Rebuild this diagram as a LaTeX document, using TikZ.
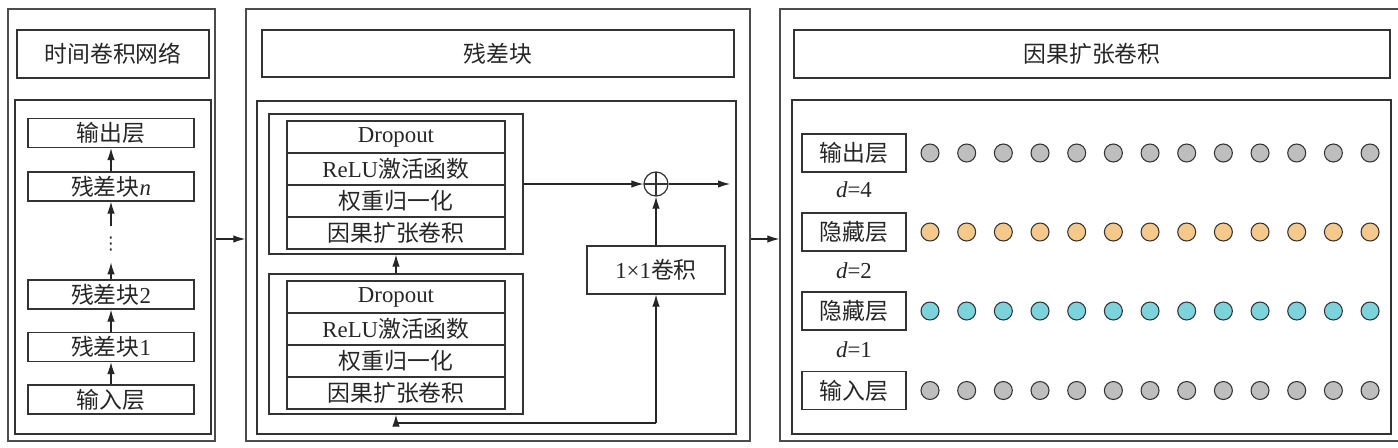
\documentclass[tikz,border=0pt]{standalone}
\usepackage{fontspec}
\setmainfont{Liberation Serif}
\newfontfamily\cjk{Noto Sans CJK SC}
\newfontfamily\sym{DejaVu Sans}
\usetikzlibrary{arrows.meta,fit}
\newcommand\zh[1]{{\cjk #1}}
\definecolor{unitgray}{HTML}{BEBEBE}
\definecolor{unitorange}{HTML}{F5C88C}
\definecolor{unitcyan}{HTML}{7DD3DC}
\tikzset{%
    every node/.style={font=\fontsize{13pt}{15pt}\selectfont, text=black!85},
    frame/.style={draw=black!70, line width=0.8pt, inner sep=0pt},
    box/.style={draw=black!80, line width=0.7pt, inner sep=0pt},
    layer/.style={box, minimum width=3.32cm, minimum height=0.58cm},
    row/.style={box, minimum width=4.36cm, minimum height=0.64cm},
    tag/.style={box, minimum width=2.08cm, minimum height=0.76cm},
    unit/.style={circle, draw=black!80, line width=0.6pt, minimum size=0.36cm,
    	inner sep=0pt},
    arr/.style={-{Latex[length=2.4mm,width=1.5mm]}, line width=0.6pt, draw=black!85}
}

\begin{document}
\begin{tikzpicture}[x=0.02cm, y=-0.02cm]
	\useasboundingbox (0,0) rectangle (1398,447);
	% left: network
	\node [frame, fit={(8,9) (215,441)}] (tcn) {};
	\node [box, minimum width=3.84cm, minimum height=0.96cm] (tcnt) at (113,54)
		{\zh{时间卷积网络}};
	\node [box, fit={(15,100) (211,434)}] (tcni) {};
	\node [layer] (out) at (111,133) {\zh{输出层}};
	\node [layer] (bn) at (111,186.5) {\zh{残差块}\textit{n}};
	\node [inner sep=0pt, minimum height=0.72cm] (dots) at (111,244)
		{\sym\fontsize{10pt}{10pt}\selectfont ⋮};
	\node [layer] (b2) at (111,294.5) {\zh{残差块}2};
	\node [layer] (b1) at (111,347) {\zh{残差块}1};
	\node [layer] (in) at (111,399.5) {\zh{输入层}};
	\draw [arr] (in) -- (b1);
	\draw [arr] (b1) -- (b2);
	\draw [arr] (b2) -- (dots);
	\draw [arr] (dots) -- (bn);
	\draw [arr] (bn) -- (out);
	% middle: residual block
	\node [frame, fit={(246,9) (750,441)}] (res) {};
	\node [box, minimum width=9.44cm, minimum height=0.94cm] (rest) at (498,53.5)
		{\zh{残差块}};
	\node [box, fit={(257,101) (736,434)}] (resi) {};
	\node [box, fit={(269,114) (523,254)}] (ub) {};
	\node [row] (ud) at (396,137) {Dropout};
	\node [row] (ur) at (396,169) {ReLU\zh{激活函数}};
	\node [row] (uw) at (396,201) {\zh{权重归一化}};
	\node [row] (uc) at (396,233) {\zh{因果扩张卷积}};
	\node [box, fit={(269,274) (523,414)}] (lb) {};
	\node [row] (ld) at (396,297) {Dropout};
	\node [row] (lr) at (396,329) {ReLU\zh{激活函数}};
	\node [row] (lw) at (396,361) {\zh{权重归一化}};
	\node [row] (lc) at (396,393) {\zh{因果扩张卷积}};
	\node [box, minimum width=2.76cm, minimum height=0.96cm] (conv) at (656,270)
		{1\texttimes1\zh{卷积}};
	\node [circle, draw=black!80, line width=0.7pt, minimum size=0.48cm,
		path picture={\draw [line width=0.7pt]
		(path picture bounding box.north) -- (path picture bounding box.south)
		(path picture bounding box.west) -- (path picture bounding box.east);}]
		(plus) at (656,184) {};
	\coordinate (sum) at (730,184);
	\coordinate (skip) at (656,423);
	\draw [arr] (lb) -- (ub);
	\draw [arr] (ub) -- (plus);
	\draw [arr] (plus) -- (sum);
	\draw [arr] (conv) -- (plus);
	\draw [arr] (skip) -- (conv);
	\draw [arr] (skip) -| (lb.south);
	% right: dilated causal convolution
	\node [frame, fit={(780,9) (1400,441)}] (dil) {};
	\node [box, minimum width=11.92cm, minimum height=0.96cm] (dilt) at (1092,54)
		{\zh{因果扩张卷积}};
	\node [box, fit={(792,100) (1391,434)}] (dili) {};
	\node [tag] (tout) at (854,153) {\zh{输出层}};
	\node (d4) at (854,190) {\textit{d}=4};
	\node [tag] (thid2) at (854,232) {\zh{隐藏层}};
	\node (d2) at (854,271) {\textit{d}=2};
	\node [tag] (thid1) at (854,311) {\zh{隐藏层}};
	\node (d1) at (854,350) {\textit{d}=1};
	\node [tag] (tin) at (854,390.5) {\zh{输入层}};
	\foreach \i in {0,...,12} {
		\node [unit, fill=unitgray] (o\i) at ({930+36.67*\i},153) {};
		\node [unit, fill=unitorange] (h\i) at ({930+36.67*\i},232) {};
		\node [unit, fill=unitcyan] (g\i) at ({930+36.67*\i},311) {};
		\node [unit, fill=unitgray] (x\i) at ({930+36.67*\i},390.5) {};
	}
	\draw [arr] ([yshift=-0.28cm]tcn.east) -- ([yshift=-0.28cm]res.west);
	\draw [arr] ([yshift=-0.28cm]res.east) -- ([yshift=-0.28cm]dil.west);
\end{tikzpicture}
\end{document}
